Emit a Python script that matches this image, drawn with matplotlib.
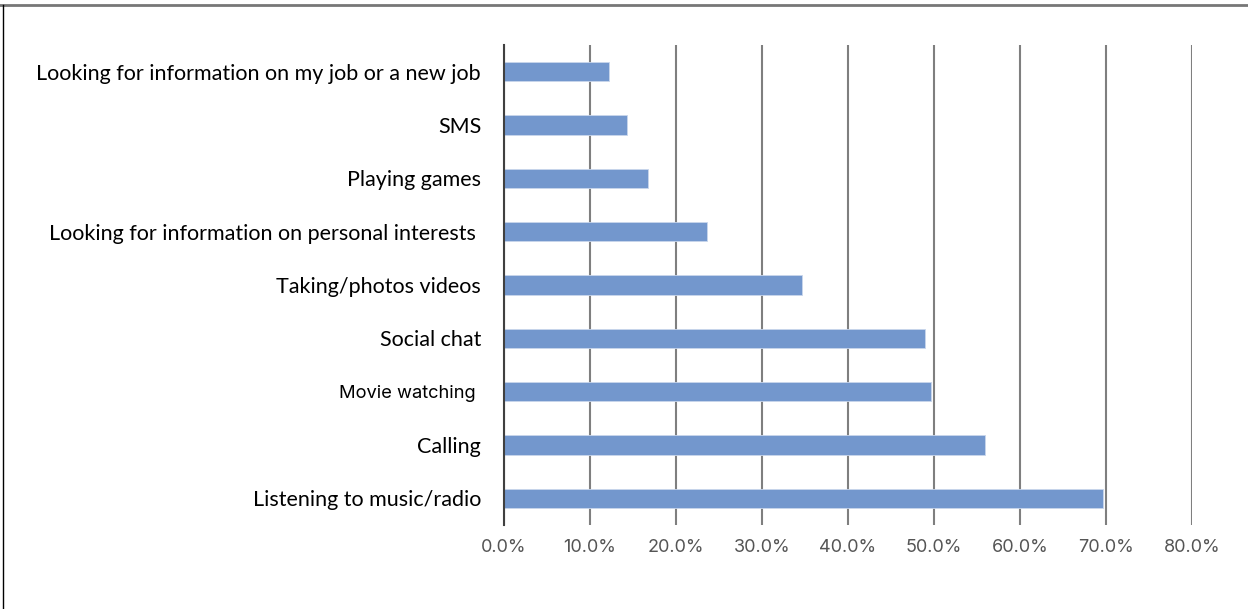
import matplotlib
matplotlib.use('Agg')
import matplotlib.pyplot as plt
from matplotlib.lines import Line2D

# data, top to bottom as in the chart
categories = ['Looking for information on my job or a new job', 'SMS', 'Playing games',
              'Looking for information on personal interests ', 'Taking/photos videos',
              'Social chat', 'Movie watching ', 'Calling', 'Listening to music/radio']
values = [12.2, 14.3, 16.7, 23.6, 34.7, 48.9, 49.6, 55.9, 69.6]
xticks = [0, 10, 20, 30, 40, 50, 60, 70, 80]

fig = plt.figure(figsize=(12.48, 6.09), dpi=100)
ax = fig.add_axes([504/1248, 1-525/609, (1192-504)/1248, 480/609])

ypos = list(range(len(categories)))[::-1]
ax.barh(ypos, values, height=0.36, color='#7397cd', edgecolor='#c9d6ec', linewidth=0.6, zorder=3)

ax.set_xlim(0, 80)
ax.set_ylim(-0.5, len(categories) - 0.5)
ax.set_xticks(xticks)
ax.set_xticklabels(['%.1f%%' % t for t in xticks], color='#555555', fontsize=13, family='Inter')
ax.set_yticks(ypos)
ax.set_yticklabels(categories, fontsize=15.5, family='Lato', color='black')
# movie watching label is in another font in the original
for lab in ax.get_yticklabels():
    if lab.get_text().startswith('Movie'):
        lab.set_family('Inter')
        lab.set_fontsize(13.2)

ax.tick_params(axis='both', length=0)
ax.tick_params(axis='x', pad=10)
ax.tick_params(axis='y', pad=16.5)
ax.grid(axis='x', color='#7f7f7f', linewidth=1.5, zorder=0)
for s in ['top', 'right', 'bottom']:
    ax.spines[s].set_visible(False)
ax.spines['left'].set_color('#404040')
ax.spines['left'].set_linewidth(1.5)
ax.spines['left'].set_zorder(4)

# frame lines of the image
fig.add_artist(Line2D([0, 1], [1-4.5/609, 1-4.5/609], color='#777777', linewidth=2, transform=fig.transFigure))
fig.add_artist(Line2D([2.5/1248, 2.5/1248], [0, 1-4.5/609], color='black', linewidth=1, transform=fig.transFigure))

plt.savefig('out.png', dpi=100)
